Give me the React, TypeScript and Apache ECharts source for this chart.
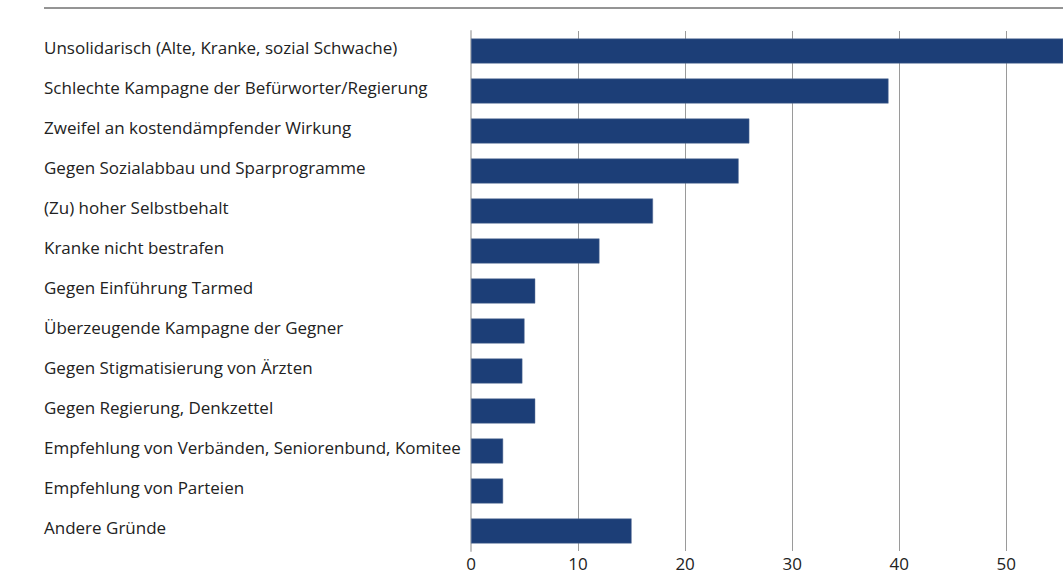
import React, { useEffect, useRef } from "react";
import * as echarts from "echarts";

const categories: string[] = [
  "Unsolidarisch (Alte, Kranke, sozial Schwache)",
  "Schlechte Kampagne der Befürworter/Regierung",
  "Zweifel an kostendämpfender Wirkung",
  "Gegen Sozialabbau und Sparprogramme",
  "(Zu) hoher Selbstbehalt",
  "Kranke nicht bestrafen",
  "Gegen Einführung Tarmed",
  "Überzeugende Kampagne der Gegner",
  "Gegen Stigmatisierung von Ärzten",
  "Gegen Regierung, Denkzettel",
  "Empfehlung von Verbänden, Seniorenbund, Komitee",
  "Empfehlung von Parteien",
  "Andere Gründe",
];

const values: number[] = [57, 39, 26, 25, 17, 12, 6, 5, 4.8, 6, 3, 3, 15];

const xTicks: number[] = [0, 10, 20, 30, 40, 50];

const FONT = "'Open Sans', sans-serif";

export default function App() {
  const ref = useRef<HTMLDivElement>(null);

  useEffect(() => {
    if (!ref.current) return;
    const chart = echarts.init(ref.current, null, { renderer: "svg" });
    chart.setOption({
      animation: false,
      backgroundColor: "#ffffff",
      grid: { left: 471, right: 0, top: 31, bottom: 31, containLabel: false },
      graphic: [
        {
          type: "line",
          shape: { x1: 44, y1: 8, x2: 1063, y2: 8 },
          style: { stroke: "#2a2a2a", lineWidth: 1 },
        },
      ],
      xAxis: {
        type: "value",
        min: 0,
        max: 55.3,
        interval: 10,
        axisLine: { show: false },
        axisTick: { show: false },
        splitLine: { show: true, lineStyle: { color: "#9a9a9a", width: 1 } },
        axisLabel: {
          show: true,
          margin: 4,
          fontSize: 17,
          fontFamily: FONT,
          color: "#222222",
          showMaxLabel: false,
          formatter: (v: number) => (xTicks.includes(v) ? String(v) : ""),
        },
      },
      yAxis: {
        type: "category",
        data: categories,
        inverse: true,
        axisLine: { show: true, lineStyle: { color: "#c4c4c4", width: 2 } },
        axisTick: { show: false },
        splitLine: { show: false },
        axisLabel: {
          show: true,
          align: "left",
          margin: 427,
          fontSize: 17,
          fontFamily: FONT,
          color: "#222222",
          formatter: (v: string) => `{t|${v}}`,
          rich: {
            t: {
              fontSize: 17,
              fontFamily: FONT,
              color: "#222222",
              lineHeight: 20,
              padding: [0, 0, 7, 0],
            },
          },
        },
      },
      series: [
        {
          type: "bar",
          data: values,
          barWidth: 25,
          clip: true,
          itemStyle: { color: "#1c3e77", borderColor: "#5a7099", borderWidth: 0.5 },
          emphasis: { disabled: true },
        },
      ],
    });
    return () => chart.dispose();
  }, []);

  return (
    <div
      ref={ref}
      style={{ position: "fixed", left: 0, top: 0, width: 1063, height: 582, background: "#fff" }}
    />
  );
}
